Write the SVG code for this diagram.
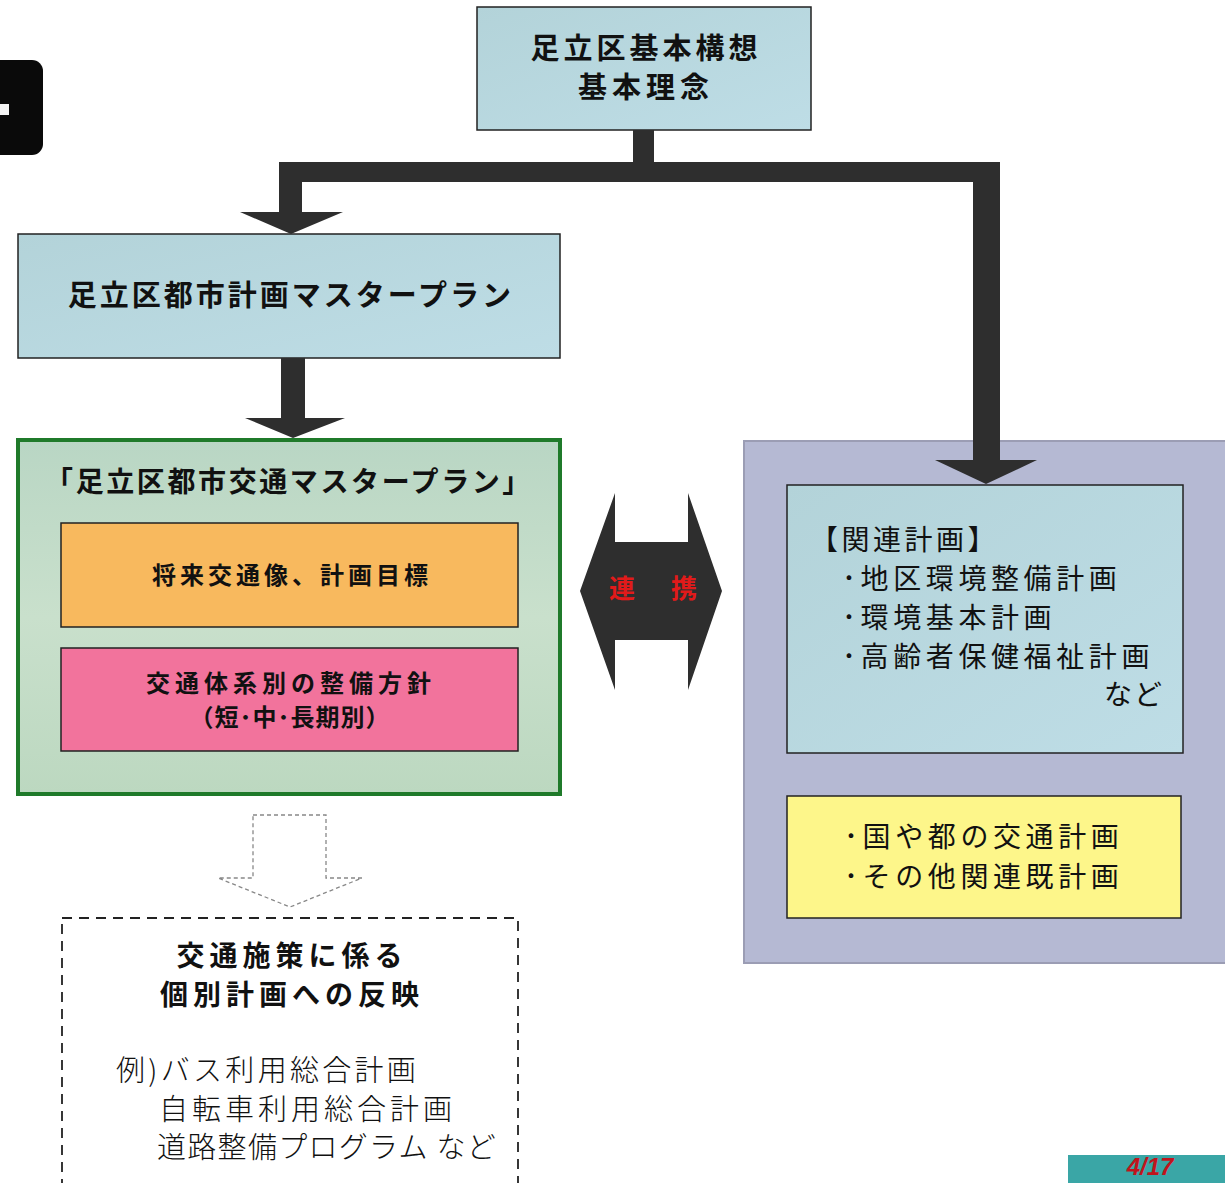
<svg xmlns="http://www.w3.org/2000/svg" width="1225" height="1183" viewBox="0 0 1225 1183">
<defs>
<style>
.jp{font-family:"Noto Sans CJK JP","Noto Sans CJK SC",sans-serif;fill:#111;}
.b{font-weight:bold;}
.box{stroke:#222;stroke-width:1.5;}
.arrow{fill:#2e2e2e;stroke:none;}
</style>
<linearGradient id="gGreen" x1="0" y1="0" x2="0" y2="1">
<stop offset="0" stop-color="#b9d6c4"/>
<stop offset="0.5" stop-color="#c9e0cc"/>
<stop offset="1" stop-color="#bcd8c0"/>
</linearGradient>
<linearGradient id="gBlue" x1="0" y1="0" x2="1" y2="1">
<stop offset="0" stop-color="#b3d3d9"/>
<stop offset="1" stop-color="#bedde6"/>
</linearGradient>
</defs>
<rect width="1225" height="1183" fill="#ffffff"/>

<!-- corner marks -->
<g id="corner-tab">
<rect x="-12" y="60" width="55" height="95" rx="11" fill="#0a0a0a"/>
<rect x="0" y="104" width="9" height="11" fill="#f4f4f4"/>
</g>
<g id="page-label">
<rect x="1068" y="1155" width="160" height="30" fill="#3aa6a6"/>
<text x="1150" y="1175" text-anchor="middle" font-family="Liberation Sans, sans-serif" font-weight="bold" font-style="italic" font-size="24" fill="#c0141c">4/17</text>
</g>

<!-- top node -->
<g id="node-kihon-koso">
<rect x="477" y="7" width="334" height="123" fill="url(#gBlue)" class="box"/>
<text x="646" y="59" text-anchor="middle" class="jp b" font-size="29" letter-spacing="4">足立区基本構想</text>
<text x="646" y="98" text-anchor="middle" class="jp b" font-size="29" letter-spacing="5">基本理念</text>
</g>

<!-- city plan master plan -->
<g id="node-toshi-keikaku">
<rect x="18" y="234" width="542" height="124" fill="url(#gBlue)" class="box"/>
<text x="291" y="306" text-anchor="middle" class="jp b" font-size="29" letter-spacing="3">足立区都市計画マスタープラン</text>
</g>

<!-- transport master plan -->
<g id="node-kotsu-master">
<rect x="18" y="440" width="542" height="354" fill="url(#gGreen)" stroke="#1f7a2a" stroke-width="4"/>
<text x="289" y="492" text-anchor="middle" class="jp b" font-size="28" letter-spacing="2.6">「足立区都市交通マスタープラン」</text>
<g id="node-shorai">
<rect x="61" y="523" width="457" height="104" fill="#f8b95e" class="box"/>
<text x="292" y="584" text-anchor="middle" class="jp b" font-size="24" letter-spacing="4">将来交通像、計画目標</text>
</g>
<g id="node-seibi-hoshin">
<rect x="61" y="648" width="457" height="103" fill="#f2739c" class="box"/>
<text x="291" y="692" text-anchor="middle" class="jp b" font-size="24" letter-spacing="5">交通体系別の整備方針</text>
<text x="290" y="726" text-anchor="middle" class="jp b" font-size="24" letter-spacing="1">（短･中･長期別）</text>
</g>
</g>

<!-- related plans -->
<g id="node-kanren">
<rect x="744" y="441" width="486" height="522" fill="#b5b9d3" stroke="#9b9db4" stroke-width="2"/>
<g id="node-kanren-keikaku">
<rect x="787" y="485" width="396" height="268" fill="url(#gBlue)" class="box"/>
<text x="810" y="550" class="jp" font-size="28" letter-spacing="3.5">【関連計画】</text>
<text x="842" y="589" class="jp" font-size="28" letter-spacing="4.6">･地区環境整備計画</text>
<text x="842" y="628" class="jp" font-size="28" letter-spacing="4.6">･環境基本計画</text>
<text x="842" y="667" class="jp" font-size="28" letter-spacing="4.6">･高齢者保健福祉計画</text>
<text x="1164" y="705" text-anchor="end" class="jp" font-size="28" letter-spacing="2">など</text>
</g>
<g id="node-kuni-to">
<rect x="787" y="796" width="394" height="122" fill="#fdf68a" class="box"/>
<text x="844" y="847" class="jp" font-size="28" letter-spacing="4.6">･国や都の交通計画</text>
<text x="844" y="887" class="jp" font-size="28" letter-spacing="4.6">･その他関連既計画</text>
</g>
</g>

<!-- individual plans (dashed) -->
<g id="node-kobetsu">
<rect x="62" y="918" width="456" height="300" fill="none" stroke="#222" stroke-width="1.8" stroke-dasharray="10,7"/>
<text x="292" y="966" text-anchor="middle" class="jp b" font-size="28" letter-spacing="5">交通施策に係る</text>
<text x="292" y="1005" text-anchor="middle" class="jp b" font-size="28" letter-spacing="5">個別計画への反映</text>
<text x="116" y="1081" class="jp" font-size="29" font-weight="300" letter-spacing="3.3">例)バス利用総合計画</text>
<text x="159" y="1120" class="jp" font-size="29" font-weight="300" letter-spacing="4">自転車利用総合計画</text>
<text x="157" y="1158" class="jp" font-size="29" font-weight="300" letter-spacing="1.3">道路整備プログラム など</text>
</g>

<!-- connectors -->
<g id="connectors">
<path class="arrow" d="M633,130 L654,130 L654,162 L1000,162 L1000,460 L1037,460 L986,484 L935,460 L973,460 L973,182 L302,182 L302,212 L343,212 L291,234 L240,212 L279,212 L279,162 L633,162 Z"/>
<path class="arrow" d="M281,358 L305,358 L305,418 L345,418 L293,438 L245,418 L281,418 Z"/>
<g id="renkei">
<path class="arrow" d="M580,591 L615,493 L615,542 L688,542 L688,493 L722,591 L688,690 L688,640 L615,640 L615,690 Z"/>
<text x="622" y="598" text-anchor="middle" class="jp b" font-size="26" style="fill:#e11a1a">連</text>
<text x="684" y="598" text-anchor="middle" class="jp b" font-size="26" style="fill:#e11a1a">携</text>
</g>
<path d="M253,815 L326,815 L326,878 L362,878 L290,907 L218,878 L253,878 Z" fill="none" stroke="#888" stroke-width="1.3" stroke-dasharray="4,3"/>
</g>
</svg>
